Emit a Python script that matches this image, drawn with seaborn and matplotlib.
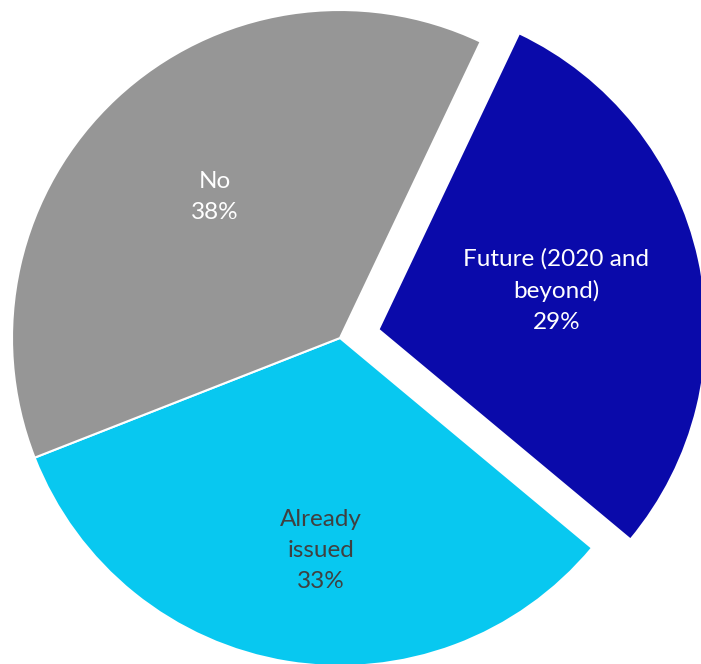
import matplotlib
matplotlib.use("Agg")
import matplotlib.pyplot as plt
import seaborn as sns
import numpy as np

categories = ["Future (2020 and\nbeyond)", "Already\nissued", "No"]
values = [29, 33, 38]
colors_hex = ["#0A0AAA", "#08C8F0", "#969696"]
text_colors = ["white", "#404040", "white"]
explode = [0.12, 0, 0]
label_dist = [0.555, 0.65, 0.575]
label_angle_shift = [0.0, 4.0, -1.5]

sns.set_theme(style="white")
plt.rcParams["font.family"] = ["Lato", "DejaVu Sans"]

palette = sns.color_palette(colors_hex)

fig = plt.figure(figsize=(7.01, 6.64), dpi=100)
ax = fig.add_axes([0, 0, 1, 1])

labels = [f"{c}\n{v}%" for c, v in zip(categories, values)]
wedges, texts = ax.pie(
    values,
    labels=labels,
    colors=palette,
    explode=explode,
    startangle=64.6,
    counterclock=False,
    radius=1.0,
    labeldistance=0.57,
    wedgeprops=dict(edgecolor="white", linewidth=1.5),
    textprops=dict(fontsize=17.5, ha="center", va="center", multialignment="center", linespacing=1.6),
)
for w, t, c, d, s in zip(wedges, texts, text_colors, label_dist, label_angle_shift):
    t.set_color(c)
    ang = np.deg2rad((w.theta1 + w.theta2) / 2 + s)
    cx, cy = w.center
    t.set_position((cx + d * np.cos(ang), cy + d * np.sin(ang)))

ax.set_aspect("equal")
ax.set_xlim(-1.0366, 1.1006)
ax.set_ylim(-0.9939, 1.0305)
ax.axis("off")

fig.savefig("out.png", dpi=100)
